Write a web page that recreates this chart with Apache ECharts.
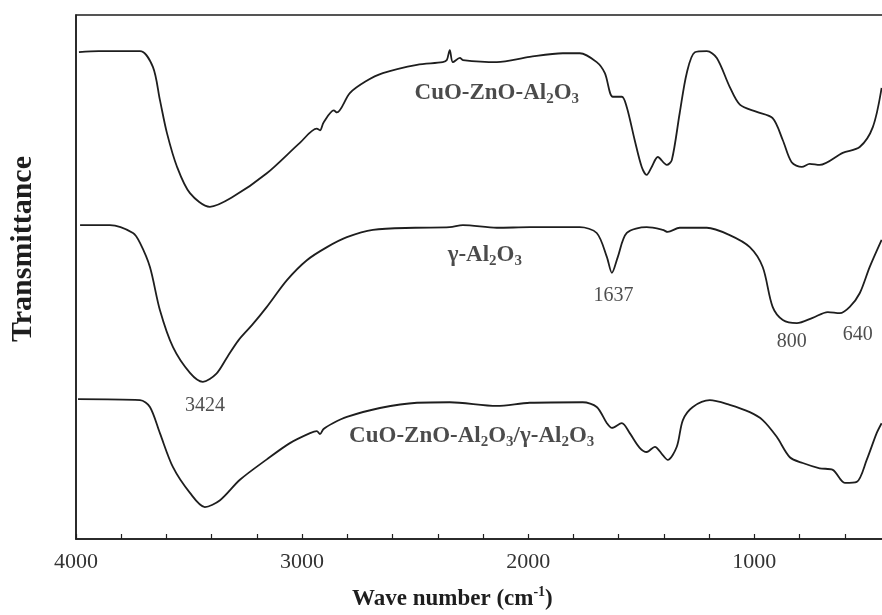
<!DOCTYPE html>
<html><head><meta charset="utf-8">
<script src="https://cdn.jsdelivr.net/npm/echarts@6/dist/echarts.min.js"></script>
<style>html,body{margin:0;padding:0;background:#fff}#c{width:882px;height:615px}</style>
</head><body><div id="c"></div>
<script>
// wavenumber (cm^-1) tick labels
const xTickLabels = [4000, 3000, 2000, 1000];

// Transmittance (a.u., offset spectra): [wavenumber, value]
const cuoZnoAl2o3 = [[3987,92.9],[3900,93.1],[3717,93.1],[3660,90.1],[3629,83.8],[3598,77.5],[3553,71.0],[3496,66.0],[3408,63.4],[3306,65.3],[3156,69.8],[3010,75.6],[2935,78.3],[2921,78.0],[2905,79.5],[2860,81.8],[2846,81.4],[2789,85.1],[2720,87.3],[2643,88.9],[2492,90.5],[2378,91.0],[2360,91.4],[2347,93.3],[2333,91.0],[2302,91.8],[2289,91.4],[2139,91.0],[1993,92.0],[1847,92.7],[1772,92.7],[1697,91.0],[1661,88.9],[1626,84.4],[1586,84.4],[1564,82.4],[1529,76.1],[1498,71.0],[1476,69.5],[1454,71.0],[1427,72.9],[1387,71.4],[1365,72.3],[1330,81.3],[1299,88.9],[1263,92.9],[1210,93.1],[1166,91.8],[1109,86.3],[1064,82.9],[989,81.5],[919,80.3],[874,76.1],[835,71.9],[790,71.0],[755,71.6],[711,71.4],[609,73.7],[534,74.8],[476,78.6],[437,86.1]];
const gammaAl2o3 = [[3982,59.9],[3850,59.9],[3748,58.4],[3717,56.5],[3673,51.9],[3629,43.7],[3571,36.6],[3496,31.7],[3439,30.0],[3380,31.5],[3330,34.8],[3280,38.0],[3220,40.9],[3156,44.3],[3067,49.4],[2979,53.2],[2890,55.7],[2802,57.6],[2687,59.0],[2500,59.4],[2347,59.5],[2289,59.9],[2139,59.4],[1993,59.5],[1772,59.5],[1697,58.4],[1652,53.8],[1630,50.8],[1604,53.8],[1564,58.4],[1476,59.5],[1405,59.0],[1383,58.6],[1330,59.4],[1210,59.4],[1109,58.0],[1020,55.7],[963,51.9],[919,44.3],[874,41.8],[812,41.2],[742,42.2],[675,43.3],[622,43.1],[578,44.3],[534,46.9],[490,51.9],[437,57.1]];
const compositeCat = [[3991,26.7],[3717,26.5],[3673,25.2],[3629,20.2],[3571,13.7],[3496,8.8],[3430,6.1],[3363,7.4],[3275,11.3],[3156,15.2],[3054,18.3],[2965,20.2],[2935,20.6],[2921,20.0],[2905,21.0],[2864,22.1],[2802,23.3],[2656,25.0],[2492,26.0],[2347,26.1],[2139,25.4],[1993,26.0],[1759,26.1],[1697,25.2],[1652,22.1],[1630,21.2],[1586,22.1],[1551,20.2],[1507,17.4],[1476,16.6],[1440,17.6],[1405,16.0],[1383,15.1],[1343,17.6],[1316,22.7],[1272,25.2],[1197,26.5],[1109,25.6],[1020,24.2],[963,22.7],[901,19.5],[843,15.6],[786,14.5],[711,13.5],[653,13.2],[600,10.7],[547,10.9],[503,15.1],[459,20.2],[437,22.1]];

// curve names (rich text) and where they sit: [text, wavenumber, value]
const sampleLabels = [
  ['{b|CuO-ZnO-Al}{s|2}{b|O}{s|3}', 2139, 85.1],
  ['{b|γ-Al}{s|2}{b|O}{s|3}', 2192, 54.2],
  ['{b|CuO-ZnO-Al}{s|2}{b|O}{s|3}{b|/γ-Al}{s|2}{b|O}{s|3}', 2250, 19.7]
];
// band positions
const peakLabels = [['3424', 3430, 25.4], ['1637', 1623, 46.4], ['800', 835, 37.6], ['640', 543, 38.9]];

const SERIF = '"Liberation Serif","Times New Roman",serif';
const INK = '#1e1e1e';
const rich = {
  b: {fontFamily: SERIF, fontWeight: 'bold', fontSize: 23, color: INK, lineHeight: 28},
  s: {fontFamily: SERIF, fontWeight: 'bold', fontSize: 15, color: INK, lineHeight: 13, verticalAlign: 'bottom'}
};

const chart = echarts.init(document.getElementById('c'), null, {renderer: 'canvas'});
const lineStyle = {color: INK, width: 1.8};
function spec(name, data) {
  return {name, type: 'line', data, showSymbol: false, symbol: 'none', lineStyle, smooth: 0.3, z: 3, animation: false};
}
chart.setOption({
  backgroundColor: '#fff',
  animation: false,
  grid: {left: 76, top: 15, bottom: 76, width: 814, outerBoundsMode: 'none', containLabel: false,
    show: true, borderColor: INK, borderWidth: 1.5},
  xAxis: {
    type: 'value', inverse: true, min: 400, max: 4000, interval: 200,
    axisLine: {show: true, lineStyle: {color: INK, width: 1.5}},
    axisTick: {show: true, inside: true, length: 5, lineStyle: {color: INK, width: 1.2}},
    axisLabel: {interval: 0, margin: 12, fontFamily: SERIF, fontSize: 22, color: '#333', hideOverlap: false,
      formatter: v => xTickLabels.includes(v) ? String(v) : ''},
    splitLine: {show: false}
  },
  yAxis: {
    type: 'value', min: 0, max: 100,
    axisLine: {show: true, lineStyle: {color: INK, width: 1.5}},
    axisTick: {show: false}, axisLabel: {show: false}, splitLine: {show: false}
  },
  graphic: [
    {type: 'text', left: 8, top: 156, rotation: Math.PI / 2, originX: 0, originY: 0,
      style: {text: 'Transmittance', fontFamily: SERIF, fontWeight: 'bold', fontSize: 30, fill: INK}},
    {type: 'text', left: 352, top: 585,
      style: {text: '{t|Wave number (cm}{u|-1}{t|)}', rich: {
        t: {fontFamily: SERIF, fontWeight: 'bold', fontSize: 23, fill: INK, color: INK, lineHeight: 28},
        u: {fontFamily: SERIF, fontWeight: 'bold', fontSize: 14, fill: INK, color: INK, lineHeight: 14, verticalAlign: 'top'}
      }}}
  ],
  series: [
    spec('CuO-ZnO-Al2O3', cuoZnoAl2o3),
    spec('γ-Al2O3', gammaAl2o3),
    spec('CuO-ZnO-Al2O3/γ-Al2O3', compositeCat),
    {
      name: 'labels', type: 'scatter', symbolSize: 0, z: 5, silent: true,
      data: sampleLabels.map(([t, x, y]) => ({value: [x, y],
        label: {show: true, position: 'inside', formatter: t, rich}}))
        .concat(peakLabels.map(([t, x, y]) => ({value: [x, y],
        label: {show: true, position: 'inside', formatter: t, fontFamily: SERIF, fontSize: 20, color: '#222'}})))
    }
  ]
});
</script></body></html>
